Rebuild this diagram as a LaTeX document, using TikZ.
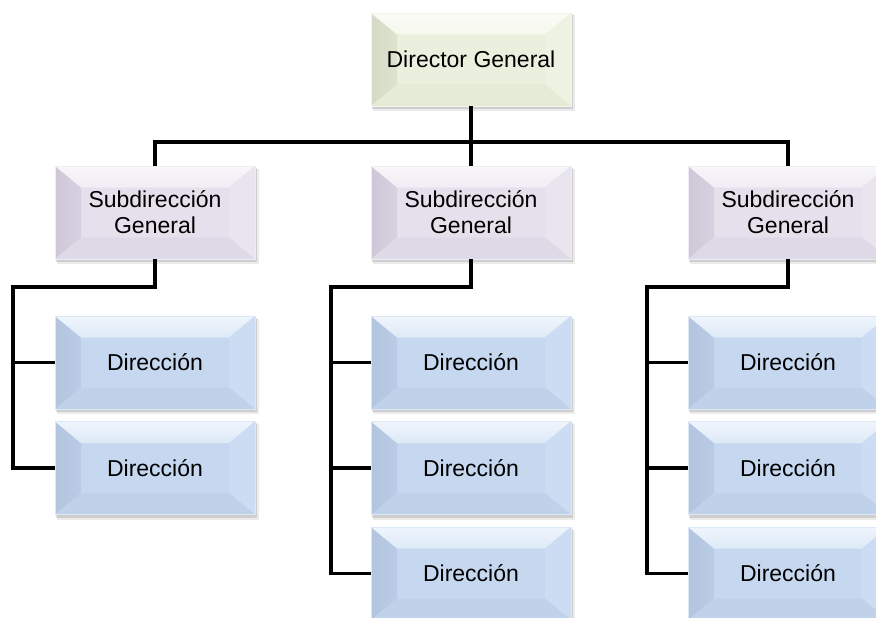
\documentclass[tikz,border=0pt]{standalone}
\usepackage{fontspec}
\setmainfont{Liberation Sans}
\definecolor{Bbase}{RGB}{198,216,240}
\definecolor{Bleft}{RGB}{178,196,222}
\definecolor{Btop}{RGB}{222,234,248}
\definecolor{Bright}{RGB}{204,220,242}
\definecolor{Bbot}{RGB}{192,210,234}
\definecolor{Lbase}{RGB}{229,224,236}
\definecolor{Lleft}{RGB}{205,199,216}
\definecolor{Ltop}{RGB}{240,237,244}
\definecolor{Lright}{RGB}{233,229,239}
\definecolor{Lbot}{RGB}{222,217,231}
\definecolor{Gbase}{RGB}{235,240,222}
\definecolor{Gleft}{RGB}{212,218,197}
\definecolor{Gtop}{RGB}{245,248,237}
\definecolor{Gright}{RGB}{238,242,227}
\definecolor{Gbot}{RGB}{229,235,214}
\tikzset{
  txt/.style={align=center, inner sep=0pt, minimum width=200pt, minimum height=93pt,
    font=\fontsize{23}{26}\selectfont, text=black},
  conn/.style={line width=3.3pt, draw=black}
}
\newcommand\bevbox[5]{%
  \begin{scope}[shift={(#2,#3)}]
    \fill[black,opacity=.08] (-98,-44) rectangle (103.5,51.5);
    \fill[black,opacity=.12] (-99,-45) rectangle (101.5,49.5);
    \fill[#4base] (-100,-46.5) rectangle (100,46.5);
    \shade[left color=#4left, right color=#4left!60!#4base] (-100,-46.5) -- (-74,-25) -- (-74,25) -- (-100,46.5) -- cycle;
    \shade[top color=#4top!50!white, bottom color=#4top] (-100,-46.5) -- (100,-46.5) -- (74,-25) -- (-74,-25) -- cycle;
    \fill[#4right] (100,-46.5) -- (74,-25) -- (74,25) -- (100,46.5) -- cycle;
    \fill[#4bot] (-100,46.5) -- (100,46.5) -- (74,25) -- (-74,25) -- cycle;
    \draw[#4base!60!white, line width=0.6pt] (-100,-46.5) rectangle (100,46.5);
  \end{scope}
  \node[txt] (#1) at (#2,#3) {#5};
}
\begin{document}
\begin{tikzpicture}[x=1pt,y=-1pt]
\useasboundingbox (0,0) rectangle (876,618);
\clip (0,0) rectangle (876,618);
\fill[white] (0,0) rectangle (876,618);

% coordinates for the connector bends
\coordinate (bus) at (471,142);
\coordinate (k1) at (13,287);
\coordinate (k2) at (331,287);
\coordinate (k3) at (647,287);

\bevbox{top}{471}{59.5}{G}{Director General}
\bevbox{s1}{155}{212.5}{L}{Subdirección\\General}
\bevbox{s2}{471}{212.5}{L}{Subdirección\\General}
\bevbox{s3}{788}{212.5}{L}{Subdirección\\General}

\bevbox{d11}{155}{362.5}{B}{Dirección}
\bevbox{d12}{155}{468}{B}{Dirección}

\bevbox{d21}{471}{362.5}{B}{Dirección}
\bevbox{d22}{471}{468}{B}{Dirección}
\bevbox{d23}{471}{573.5}{B}{Dirección}

\bevbox{d31}{788}{362.5}{B}{Dirección}
\bevbox{d32}{788}{468}{B}{Dirección}
\bevbox{d33}{788}{573.5}{B}{Dirección}

% connectors
\draw[conn] (top.south) -- (bus);
\draw[conn] (s1.north) |- (bus) -| (s3.north);
\draw[conn] (bus) -- (s2.north);

\draw[conn] (s1.south) |- (k1) |- (d12.west);
\draw[conn] (k1 |- d11.west) -- (d11.west);

\draw[conn] (s2.south) |- (k2) |- (d23.west);
\draw[conn] (k2 |- d21.west) -- (d21.west);
\draw[conn] (k2 |- d22.west) -- (d22.west);

\draw[conn] (s3.south) |- (k3) |- (d33.west);
\draw[conn] (k3 |- d31.west) -- (d31.west);
\draw[conn] (k3 |- d32.west) -- (d32.west);
\end{tikzpicture}
\end{document}
